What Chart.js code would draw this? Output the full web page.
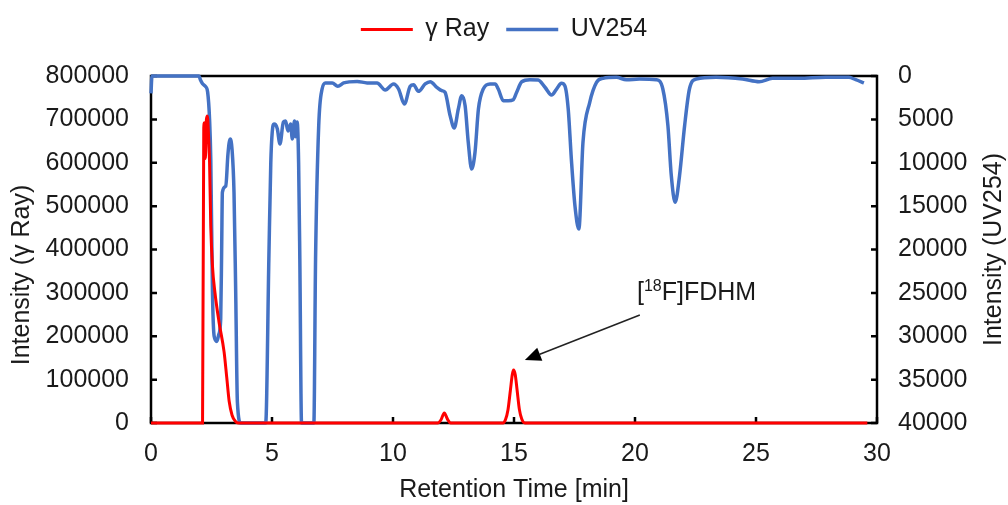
<!DOCTYPE html>
<html><head><meta charset="utf-8">
<script src="https://cdn.jsdelivr.net/npm/chart.js@4.4.1/dist/chart.umd.min.js"></script>
<style>html,body{margin:0;padding:0;background:#fff;}#wrap{width:1008px;height:505px;}</style>
</head><body><div id="wrap"><canvas id="c" width="1008" height="505"></canvas></div>
<script>
// ---- data ----
const seriesNames = ['γ Ray', 'UV254'];
const gammaTime   = [0, 1.0, 2.13, 2.18, 2.21, 2.25, 2.29, 2.33, 2.38, 2.42, 2.47, 2.54, 2.64, 2.81, 3.02, 3.13, 3.23, 3.35, 3.5, 3.6,
                     11.85, 11.98, 12.12, 12.25, 12.38, 14.55, 14.65, 14.75, 14.85, 14.93, 14.98, 15.05, 15.13, 15.22, 15.32, 15.45, 29.6];
const gammaValues = [0, 0, 0, 680000, 692000, 610000, 700000, 708000, 660000, 600000, 454000, 362000, 302000, 233000, 164000, 105000, 50000, 18000, 3000, 0,
                     0, 7000, 23000, 9000, 0, 0, 8000, 30000, 75000, 112000, 122000, 112000, 75000, 32000, 9000, 0, 0];
const uvTime   = [0, 0.04, 1.98, 2.05, 2.13, 2.25, 2.34, 2.42, 2.47, 2.54, 2.61, 2.72, 2.8, 2.88, 2.92, 2.95, 3.09, 3.18, 3.27, 3.35, 3.43, 3.5, 3.57, 3.71,
                  4.74, 4.87, 4.95, 5.01, 5.08, 5.15, 5.22, 5.33, 5.47, 5.56, 5.66, 5.77, 5.84, 5.93, 5.97, 6.04, 6.1, 6.15, 6.22,
                  6.73, 6.8, 6.93, 7.07, 7.21, 7.49, 7.72, 7.96, 8.52, 8.93, 9.34, 9.68, 10.02, 10.23, 10.47, 10.71, 10.85, 11.05, 11.33, 11.54, 11.81,
                  12.02, 12.15, 12.36, 12.53, 12.70, 12.84, 12.98, 13.11, 13.25, 13.39, 13.53, 13.73, 14.01, 14.22, 14.35, 14.56, 14.76, 14.97, 15.11,
                  15.32, 15.66, 16.0, 16.28, 16.55, 16.76, 16.96, 17.10, 17.24, 17.37, 17.52, 17.68, 17.85, 18.13, 18.41, 18.68, 19.23, 19.64, 20.19,
                  20.88, 21.15, 21.36, 21.5, 21.66, 21.84, 22.05, 22.25, 22.53, 23.35, 24.45, 25.13, 25.68, 26.78, 27.88, 28.84, 29.12, 29.46];
const uvValues = [2000, 0, 0, 500, 900, 1200, 1850, 5000, 9600, 24900, 30000, 30600, 29800, 28000, 20000, 13400, 12700, 9000, 7260, 8500, 13400, 24900, 37600, 40000,
                  40000, 21100, 10000, 6450, 5530, 5600, 6100, 7840, 5300, 5190, 6340, 5530, 7260, 5190, 7000, 5300, 10000, 21100, 40000,
                  40000, 21100, 5760, 1500, 800, 800, 1190, 800, 620, 800, 800, 1610, 920, 1500, 3230, 1190, 1000, 1770, 920, 660, 1300,
                  1690, 1880, 4570, 6000, 3800, 2270, 3420, 7640, 10720, 8760, 3800, 1500, 920, 920, 1500, 2850, 2850, 2730, 1880,
                  660, 430, 460, 1300, 2190, 1500, 840, 1120, 3800, 9570, 15000, 17640, 7640, 3030, 730, 270, 150, 430, 350,
                  430, 1500, 5730, 11490, 14560, 11490, 5730, 1500, 350, 150, 350, 660, 270, 270, 150, 150, 430, 800];
const xTicks = [0, 5, 10, 15, 20, 25, 30];
const leftTicks = [0, 100000, 200000, 300000, 400000, 500000, 600000, 700000, 800000];
const rightTicks = [0, 5000, 10000, 15000, 20000, 25000, 30000, 35000, 40000];
const axisTitles = {x: 'Retention Time [min]', left: 'Intensity (γ Ray)', right: 'Intensity (UV254)'};
const annotationParts = ['[', '18', 'F]FDHM'];
const annotationLabelAt = [20.08, 283000];   // [min, γ intensity]
const annotationTail = [20.2, 249000];
const annotationTip = [15.45, 145000];

// ---- chart ----
const FONT = '"Liberation Sans", Arial, sans-serif';
const TXT = '#1a1a1a';
const fnt = (s) => ({family: FONT, size: s});
const plain = (v) => String(v);

const framePlugin = {
  id: 'frame',
  afterInit(chart) {
    const lg = chart.legend;
    const orig = lg.fit;
    lg.fit = function () { orig.call(this); this.height = 76; };
  },
  beforeDatasetsDraw(chart) {
    const {ctx, chartArea: a, scales} = chart;
    ctx.save();
    ctx.strokeStyle = '#000';
    ctx.lineWidth = 2.5;
    ctx.strokeRect(a.left, a.top, a.right - a.left, a.bottom - a.top);
    const L = 6;
    ctx.beginPath();
    leftTicks.forEach(v => { const y = scales.y.getPixelForValue(v); ctx.moveTo(a.left, y); ctx.lineTo(a.left + L, y); });
    rightTicks.forEach(v => { const y = scales.y2.getPixelForValue(v); ctx.moveTo(a.right, y); ctx.lineTo(a.right - L, y); });
    xTicks.forEach(v => { const x = scales.x.getPixelForValue(v); ctx.moveTo(x, a.bottom); ctx.lineTo(x, a.bottom - L); });
    ctx.stroke();
    ctx.restore();
  },
  afterDraw(chart) {
    const {ctx, chartArea: a, scales} = chart;
    ctx.save();
    ctx.fillStyle = TXT;
    ctx.font = '25px ' + FONT;
    ctx.textAlign = 'center';
    ctx.textBaseline = 'middle';
    // left axis title
    ctx.save(); ctx.translate(22, 275); ctx.rotate(-Math.PI / 2); ctx.fillText(axisTitles.left, 0, 0); ctx.restore();
    // right axis title
    ctx.save(); ctx.translate(994, (a.top + a.bottom) / 2); ctx.rotate(-Math.PI / 2); ctx.fillText(axisTitles.right, 0, 0); ctx.restore();

    // annotation
    const px = (p) => [scales.x.getPixelForValue(p[0]), scales.y.getPixelForValue(p[1])];
    const [tx, ty] = px(annotationTail), [hx, hy] = px(annotationTip);
    const ang = Math.atan2(hy - ty, hx - tx);
    const head = 16, hw = 7;
    const bx = hx - Math.cos(ang) * head, by = hy - Math.sin(ang) * head;
    ctx.strokeStyle = '#222'; ctx.lineWidth = 1.5;
    ctx.beginPath(); ctx.moveTo(tx, ty); ctx.lineTo(bx, by); ctx.stroke();
    ctx.fillStyle = '#000';
    ctx.beginPath();
    ctx.moveTo(hx, hy);
    ctx.lineTo(bx + Math.sin(ang) * hw, by - Math.cos(ang) * hw);
    ctx.lineTo(bx - Math.sin(ang) * hw, by + Math.cos(ang) * hw);
    ctx.closePath(); ctx.fill();

    const [lx, ly] = px(annotationLabelAt);
    ctx.fillStyle = TXT;
    ctx.textAlign = 'left'; ctx.textBaseline = 'alphabetic';
    let cx = lx;
    ctx.font = '25px ' + FONT; ctx.fillText(annotationParts[0], cx, ly); cx += ctx.measureText(annotationParts[0]).width;
    ctx.font = '16px ' + FONT; ctx.fillText(annotationParts[1], cx, ly - 9); cx += ctx.measureText(annotationParts[1]).width;
    ctx.font = '25px ' + FONT; ctx.fillText(annotationParts[2], cx, ly);
    ctx.restore();
  }
};

const toXY = (ts, vs) => ts.map((t, i) => ({x: t, y: vs[i]}));

new Chart(document.getElementById('c'), {
  type: 'scatter',
  data: {
    datasets: [
      {label: seriesNames[0], data: toXY(gammaTime, gammaValues), yAxisID: 'y', showLine: true,
       borderColor: '#FF0000', backgroundColor: '#FF0000', borderWidth: 3, pointRadius: 0,
       cubicInterpolationMode: 'monotone', clip: 4},
      {label: seriesNames[1], data: toXY(uvTime, uvValues), yAxisID: 'y2', showLine: true,
       borderColor: '#4472C4', backgroundColor: '#4472C4', borderWidth: 3.5, pointRadius: 0,
       cubicInterpolationMode: 'monotone', clip: 4}
    ]
  },
  options: {
    responsive: false,
    animation: false,
    devicePixelRatio: 1,
    layout: {padding: 0},
    plugins: {
      legend: {
        position: 'top',
        labels: {usePointStyle: true, pointStyle: 'line', pointStyleWidth: 52, font: fnt(25), color: TXT, padding: 17}
      },
      tooltip: {enabled: false}
    },
    scales: {
      x: {
        type: 'linear', position: 'bottom', min: 0, max: 30,
        afterBuildTicks: (s) => { s.ticks = xTicks.map(v => ({value: v})); },
        afterFit: (s) => { s.height = 82; },
        ticks: {font: fnt(25), color: TXT, padding: 16, maxRotation: 0, callback: plain},
        grid: {display: false, drawTicks: false},
        border: {display: false},
        title: {display: true, text: axisTitles.x, font: fnt(25), color: TXT, padding: {top: 0, bottom: 0}}
      },
      y: {
        type: 'linear', position: 'left', min: 0, max: 800000,
        afterBuildTicks: (s) => { s.ticks = leftTicks.map(v => ({value: v})); },
        afterFit: (s) => { s.width = 151; },
        ticks: {font: fnt(25), color: TXT, padding: 22, callback: plain},
        grid: {display: false, drawTicks: false},
        border: {display: false}
      },
      y2: {
        type: 'linear', position: 'right', min: 0, max: 40000, reverse: true,
        afterBuildTicks: (s) => { s.ticks = rightTicks.map(v => ({value: v})); },
        afterFit: (s) => { s.width = 131; },
        ticks: {font: fnt(25), color: TXT, padding: 21, callback: plain},
        grid: {display: false, drawTicks: false},
        border: {display: false}
      }
    }
  },
  plugins: [framePlugin]
});
</script></body></html>
